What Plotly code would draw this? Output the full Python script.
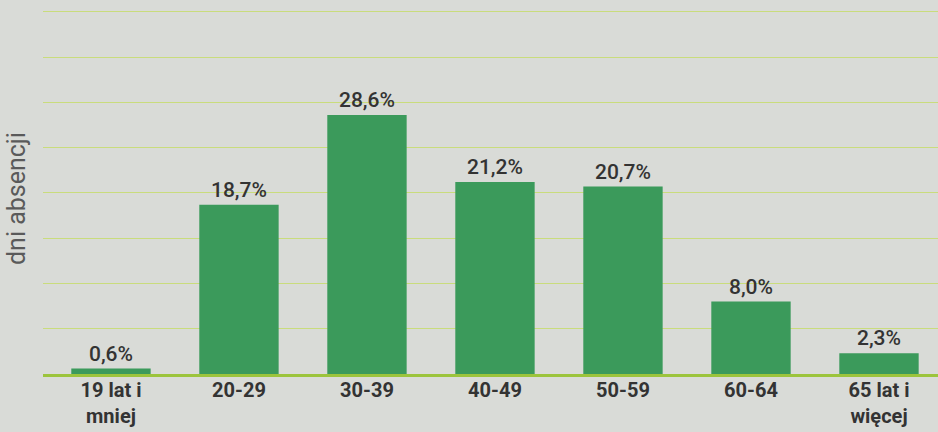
import plotly.graph_objects as go

categories = ["19 lat i<br>mniej", "20-29", "30-39", "40-49", "50-59", "60-64", "65 lat i<br>więcej"]
values = [0.6, 18.7, 28.6, 21.2, 20.7, 8.0, 2.3]
value_labels = ["0,6%", "18,7%", "28,6%", "21,2%", "20,7%", "8,0%", "2,3%"]
y_title = "dni absencji"

BG = "#d9dbd7"

fig = go.Figure(go.Bar(
    x=list(range(len(categories))),
    y=values,
    width=0.62,
    marker=dict(color="#3b9a5b", line=dict(width=0)),
    text=value_labels,
    textposition="outside",
    constraintext="none",
    textfont=dict(family="Roboto", size=21, color="#333333", weight=500),
    cliponaxis=False,
))

fig.update_layout(
    width=938, height=432,
    margin=dict(l=43, r=0, t=0, b=58),
    paper_bgcolor=BG, plot_bgcolor=BG,
    showlegend=False,
    xaxis=dict(
        range=[-0.531, 6.461],
        automargin=False,
        tickmode="array",
        tickvals=list(range(len(categories))),
        ticktext=["<b>%s</b>" % c for c in categories],
        tickfont=dict(family="Roboto", size=20, color="#333333"),
        ticklabelstandoff=-4,
        showgrid=False, zeroline=False,
        showline=True, linecolor="#9cc43c", linewidth=3,
        ticks="", ticklen=0,
    ),
    yaxis=dict(
        range=[0, 41.3],
        automargin=False,
        tickvals=[5, 10, 15, 20, 25, 30, 35, 40],
        showticklabels=False,
        showgrid=True, gridcolor="#c9dc7c", gridwidth=1.2,
        zeroline=False, showline=False,
    ),
    annotations=[dict(
        text=y_title, xref="paper", yref="paper",
        x=-43/895 + 16/895, y=(374 - 199) / 374,
        xanchor="center", yanchor="middle",
        textangle=-90, showarrow=False,
        font=dict(family="Roboto", size=25, color="#5a5a5a"),
    )],
)

fig.write_html("out.html")
